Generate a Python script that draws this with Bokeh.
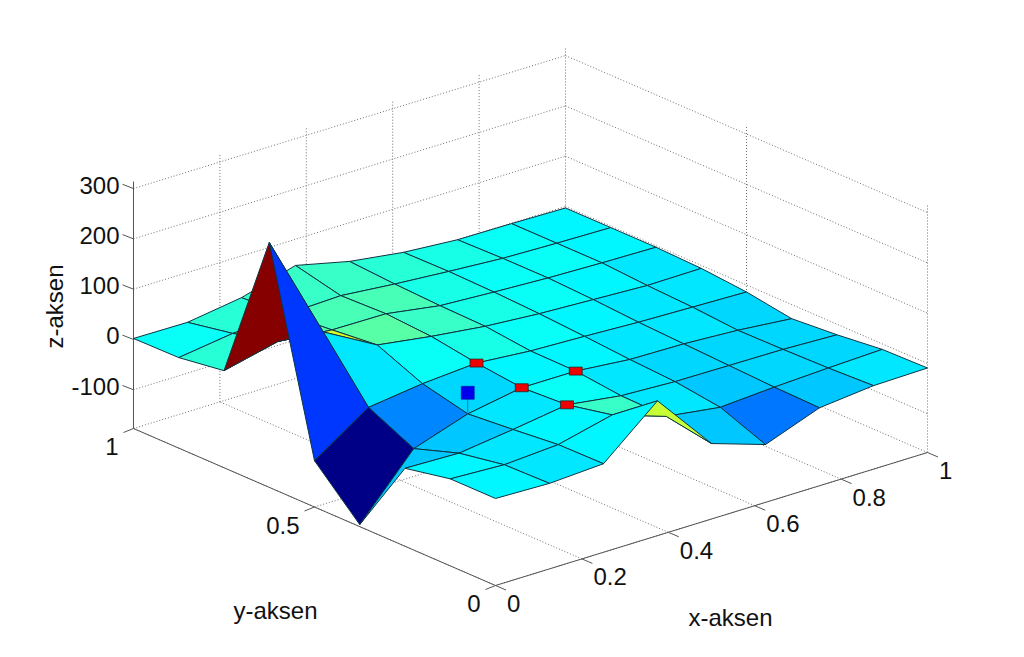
from bokeh.plotting import figure
from bokeh.models import Range1d, ColumnDataSource
from bokeh.core.properties import value
from bokeh.embed import file_html
from bokeh.resources import INLINE

# z values on the 9x9 grid: one list per x position, running over y = 0 ... 1
z_x0 = [-4, -4, -22, -173, -85, 310, 16, 3, 2]
z_x1 = [-7, -9, -25, -55, -12, 99, 41, 18, 1]
z_x2 = [-1, -2, -11, -19, 2, 40, 31, 23, 17]
z_x3 = [91, 24, 5, 0, 10, 24, 30, 27, 48]
z_x4 = [-27, -12, -10, 0, 1, 11, 13, 17, 23]
z_x5 = [-62, -27, -15, -10, -3, 3, 7, 9, 8]
z_x6 = [-22, -20, -16, -12, -8, -2, 2, 2, 0]
z_x7 = [-11, -15, -17, -18, -11, -7, -1, -1, -1]
z_x8 = [-9, -11, -21, -28, -14, -6, -3, -3, -3]
Z = [z_x0, z_x1, z_x2, z_x3, z_x4, z_x5, z_x6, z_x7, z_x8]
grid = [0, .125, .25, .375, .5, .625, .75, .875, 1]

x_ticks = [0, .2, .4, .6, .8, 1]
x_labels = ["0", "0.2", "0.4", "0.6", "0.8", "1"]
y_ticks = [0, .5, 1]
y_labels = ["0", "0.5", "1"]
z_ticks = [-100, 0, 100, 200, 300]
z_labels = ["-100", "0", "100", "200", "300"]
red_x = [.375, .375, .5, .375]
red_y = [.5, .375, .375, .25]
blue_x, blue_y, blue_z = .25, .375, 23

ZMIN, ZMAX = -177, 314
CMIN, CMAX = -170, 285


def proj(x, y, z):
    return (495 + 432 * x - 362 * y,
            585 - 133 * x - 157 * y - 0.503 * (z - ZMIN))


def jet(v):
    t = max(0.0, min(1.0, (v - CMIN) / (CMAX - CMIN)))
    t = (min(int(t * 64), 63) + 0.5) / 64
    f = lambda a: max(0.0, min(1.0, 1.5 - abs(4 * t - a)))
    return "#%02x%02x%02x" % tuple(int(255 * f(a)) for a in (3, 2, 1))


p = figure(width=1008, height=641, x_range=Range1d(0, 1008), y_range=Range1d(641, 0),
           output_backend="svg", toolbar_location=None, min_border=0,
           outline_line_color=None, background_fill_color="white")
p.xaxis.visible = False
p.yaxis.visible = False
p.xgrid.visible = False
p.ygrid.visible = False

# dotted grid
gx, gy = [], []


def seg(a, b, store_x=gx, store_y=gy):
    pa, pb = proj(*a), proj(*b)
    store_x.append([pa[0], pb[0]])
    store_y.append([pa[1], pb[1]])


for t in x_ticks:
    seg((t, 0, ZMIN), (t, 1, ZMIN))
    if t > 0:
        seg((t, 1, ZMIN), (t, 1, ZMAX))
for t in y_ticks:
    seg((0, t, ZMIN), (1, t, ZMIN))
    if t < 1:
        seg((1, t, ZMIN), (1, t, ZMAX))
for t in z_ticks:
    seg((0, 1, t), (1, 1, t))
    seg((1, 1, t), (1, 0, t))
p.multi_line(gx, gy, line_color="#707070", line_width=1, line_dash="1 2")

# axes and ticks
ax, ay = [], []
seg((0, 1, ZMIN), (0, 1, ZMAX), ax, ay)
seg((0, 0, ZMIN), (0, 1, ZMIN), ax, ay)
seg((0, 0, ZMIN), (1, 0, ZMIN), ax, ay)
for t in x_ticks:
    a = proj(t, 0, ZMIN)
    ax.append([a[0], a[0] + 10.5])
    ay.append([a[1], a[1] + 4.5])
for t in y_ticks:
    a = proj(0, t, ZMIN)
    ax.append([a[0], a[0] - 10])
    ay.append([a[1], a[1] + 4])
for t in z_ticks:
    a = proj(0, 1, t)
    ax.append([a[0], a[0] - 11])
    ay.append([a[1], a[1] - 4.3])
p.multi_line(ax, ay, line_color="#555555", line_width=1)

# surface, back to front
cells = sorted(((i, j) for i in range(8) for j in range(8)), key=lambda c: -(c[0] + c[1]))
xs, ys, cs = [], [], []
for i, j in cells:
    q = [(i, j), (i + 1, j), (i + 1, j + 1), (i, j + 1)]
    pts = [proj(grid[a], grid[b], Z[a][b]) for a, b in q]
    xs.append([c[0] for c in pts])
    ys.append([c[1] for c in pts])
    cs.append(jet(Z[i][j]))
p.patches(source=ColumnDataSource(dict(xs=xs, ys=ys, c=cs)), xs="xs", ys="ys",
          fill_color="c", line_color="#0c3442", line_width=1)

# markers
bx0, by0 = proj(blue_x, blue_y, Z[2][3])
bx1, by1 = proj(blue_x, blue_y, blue_z)
p.line([bx0, bx1], [by0, by1], line_color="#1a70c0", line_width=1)
p.rect([bx1], [by1], width=13, height=13, fill_color="#0000ee", line_color="#000080", line_width=0.5)
rx, ry = [], []
for a, b in zip(red_x, red_y):
    s = proj(a, b, Z[grid.index(a)][grid.index(b)])
    rx.append(s[0])
    ry.append(s[1])
p.rect(rx, ry, width=13, height=8, fill_color="#ee0000", line_color="#202020", line_width=0.7)

# labels
font = value("Liberation Sans")
for t, s in zip(x_ticks, x_labels):
    a = proj(t, 0, ZMIN)
    p.text([a[0] + 11.5], [a[1] + 18], text=[s], text_font=font, text_font_size="24px",
           text_align="left", text_baseline="middle", text_color="#111111")
for t, s in zip(y_ticks, y_labels):
    a = proj(0, t, ZMIN)
    p.text([a[0] - 15], [a[1] + 18], text=[s], text_font=font, text_font_size="24px",
           text_align="right", text_baseline="middle", text_color="#111111")
for t, s in zip(z_ticks, z_labels):
    a = proj(0, 1, t)
    p.text([a[0] - 14], [a[1] - 3.5], text=[s], text_font=font, text_font_size="24px",
           text_align="right", text_baseline="middle", text_color="#111111")
p.text([275], [610], text=["y-aksen"], text_font=font, text_font_size="24px",
       text_align="center", text_baseline="middle", text_color="#111111")
p.text([730], [617], text=["x-aksen"], text_font=font, text_font_size="24px",
       text_align="center", text_baseline="middle", text_color="#111111")
p.text([54], [306], text=["z-aksen"], text_font=font, text_font_size="24px", angle=1.5708,
       text_align="center", text_baseline="middle", text_color="#111111")

open("out.html", "w").write(file_html(p, INLINE))
